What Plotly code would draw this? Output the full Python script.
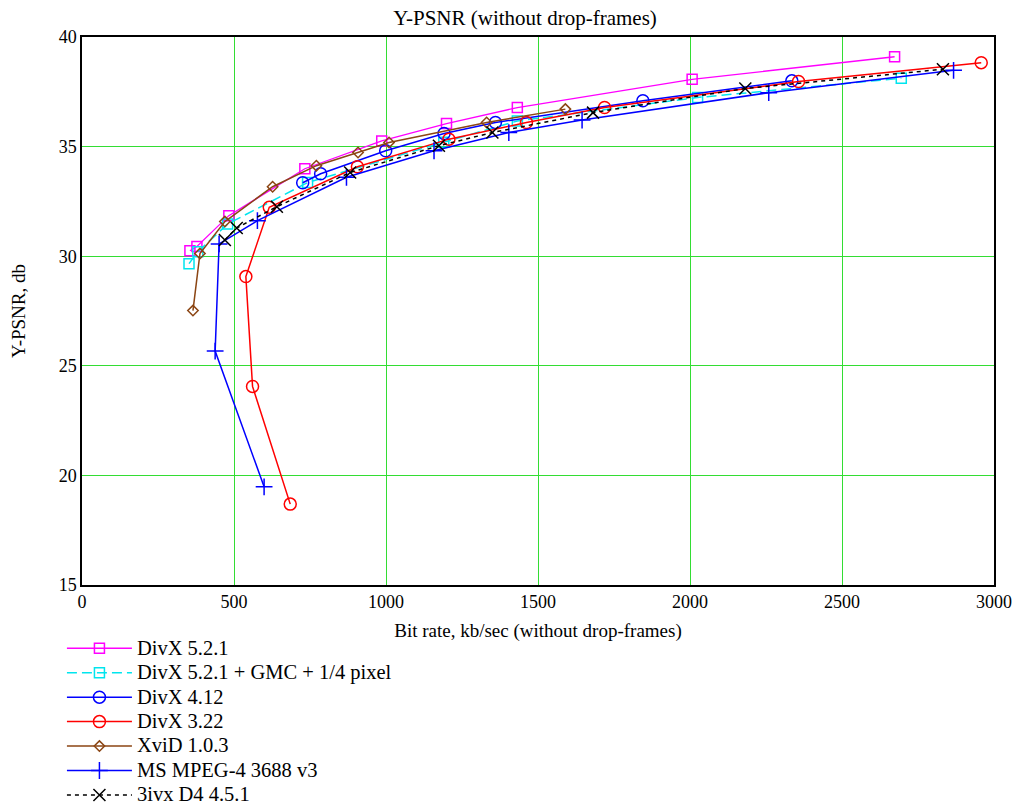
import plotly.graph_objects as go

divx521_x = [355, 378, 483, 733, 986, 1199, 1432, 2007, 2673]
divx521_y = [30.25, 30.44, 31.85, 33.99, 35.26, 36.05, 36.78, 38.07, 39.10]

gmc_x = [352, 381, 479, 742, 1190, 1432, 2025, 2695]
gmc_y = [29.66, 30.2, 31.47, 33.36, 35.2, 36.17, 37.24, 38.12]

divx412_x = [726, 785, 999, 1191, 1360, 1845, 2335]
divx412_y = [33.35, 33.76, 34.81, 35.60, 36.10, 37.09, 38.0]

divx322_x = [685, 561, 539, 616, 906, 1207, 1462, 1719, 2357, 2958]
divx322_y = [18.69, 24.06, 29.07, 32.23, 34.08, 35.34, 36.10, 36.78, 37.97, 38.83]

xvid_x = [365, 388, 470, 627, 771, 908, 1010, 1331, 1590]
xvid_y = [27.52, 30.12, 31.58, 33.17, 34.13, 34.73, 35.19, 36.10, 36.71]

msmpeg_x = [599, 438, 451, 577, 870, 1158, 1404, 1645, 2259, 2867]
msmpeg_y = [19.48, 25.67, 30.56, 31.62, 33.6, 34.81, 35.64, 36.21, 37.46, 38.48]

ivx_x = [470, 509, 641, 882, 1174, 1350, 1681, 2182, 2832]
ivx_y = [30.74, 31.29, 32.26, 33.82, 35.04, 35.64, 36.55, 37.65, 38.53]

series = [
    ("DivX 5.2.1", divx521_x, divx521_y, "#ff00ff", "solid", "square-open", 10, 1.3),
    ("DivX 5.2.1 + GMC + 1/4 pixel", gmc_x, gmc_y, "#00e5ee", "10px,5px", "square-open", 10, 1.5),
    ("DivX 4.12", divx412_x, divx412_y, "#0000ff", "solid", "circle-open", 12, 1.5),
    ("DivX 3.22", divx322_x, divx322_y, "#ff0000", "solid", "circle-open", 12, 1.5),
    ("XviD 1.0.3", xvid_x, xvid_y, "#8b4513", "solid", "diamond-open", 8, 1.5),
    ("MS MPEG-4 3688 v3", msmpeg_x, msmpeg_y, "#0000ff", "solid", "cross-thin-open", 12, 1.5),
    ("3ivx D4 4.5.1", ivx_x, ivx_y, "#000000", "4px,4px", "x-thin-open", 12, 1.5),
]

FONT = "Liberation Serif, Times New Roman, serif"

fig = go.Figure()
for name, xs, ys, color, dash, sym, size, lw in series:
    fig.add_trace(go.Scatter(
        x=xs, y=ys, name='<span style="font-size:20.5px">' + name + "</span>",
        mode="lines+markers",
        line=dict(color=color, width=lw, dash=dash),
        marker=dict(symbol=sym, size=size, color=color, line=dict(color=color, width=1.5)),
    ))

fig.update_layout(
    width=1018, height=806,
    margin=dict(l=82, r=24, t=37, b=221, autoexpand=False),
    paper_bgcolor="white", plot_bgcolor="white",
    font=dict(family=FONT, size=18, color="black"),
    title=dict(text="Y-PSNR (without drop-frames)", x=525 / 1018, xanchor="center",
               y=1 - 18 / 806, yanchor="middle", font=dict(family=FONT, size=21, color="black")),
    showlegend=True,
    legend=dict(x=-0.022, xanchor="left", y=-0.084, yanchor="top",
                font=dict(family=FONT, size=16.5, color="black"),
                bgcolor="rgba(0,0,0,0)", tracegroupgap=0, itemwidth=65),
)
fig.update_xaxes(
    range=[0, 3000], tickmode="array", tickvals=[0, 500, 1000, 1500, 2000, 2500, 3000],
    showgrid=True, gridcolor="#33dd33", gridwidth=1, zeroline=False,
    showline=True, linecolor="black", linewidth=1.5, mirror=True,
    ticks="", tickfont=dict(family=FONT, size=18),
    title=dict(text="Bit rate, kb/sec (without drop-frames)", font=dict(family=FONT, size=19), standoff=12),
)
fig.update_yaxes(
    range=[15, 40], tickmode="array", tickvals=[15, 20, 25, 30, 35, 40],
    showgrid=True, gridcolor="#33dd33", gridwidth=1, zeroline=False,
    showline=True, linecolor="black", linewidth=1.5, mirror=True,
    ticks="", tickfont=dict(family=FONT, size=18),
    title=dict(text="Y-PSNR, db", font=dict(family=FONT, size=19), standoff=28),
)

fig.write_html("out.html")
